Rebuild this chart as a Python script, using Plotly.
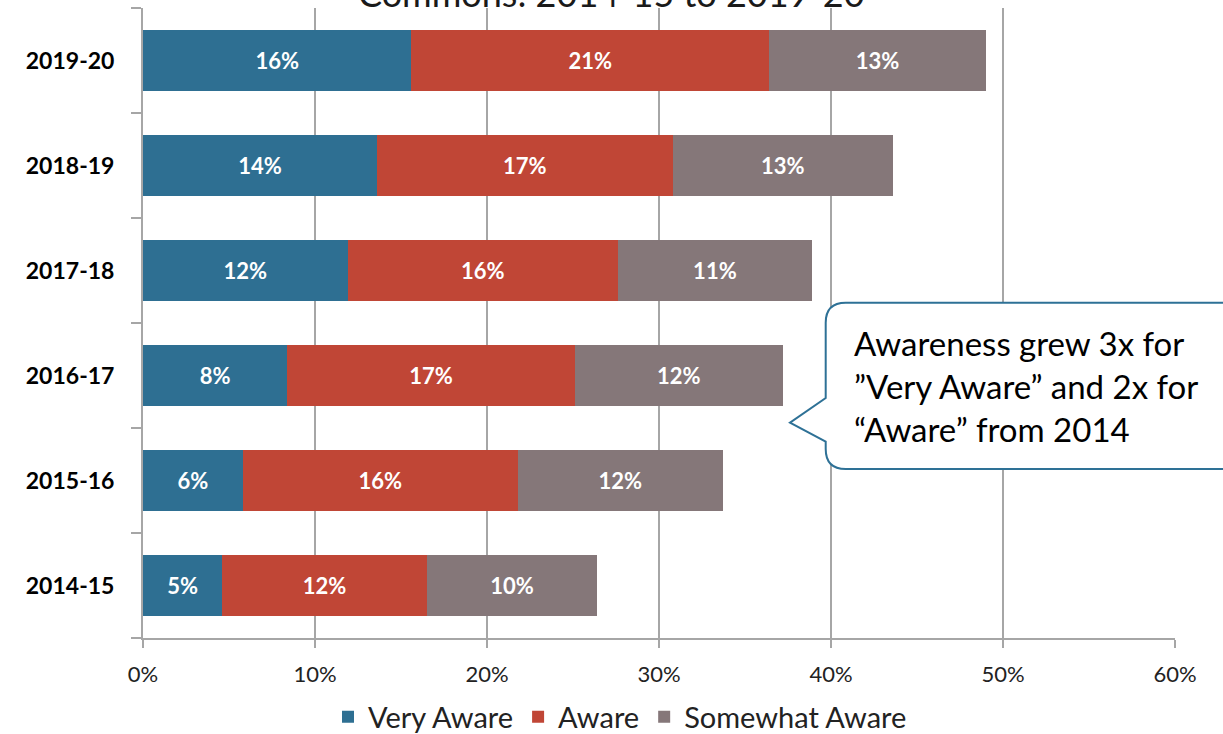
import plotly.graph_objects as go

# Survey years, bottom to top
years = ["2014-15", "2015-16", "2016-17", "2017-18", "2018-19", "2019-20"]

# Share of respondents (%) per awareness level
very_aware = [4.6, 5.8, 8.4, 11.9, 13.6, 15.6]
aware = [11.9, 16.0, 16.7, 15.7, 17.2, 20.8]
somewhat_aware = [9.9, 11.9, 12.1, 11.3, 12.8, 12.6]

x_ticks = [0, 10, 20, 30, 40, 50, 60]
x_tick_labels = ["0%", "10%", "20%", "30%", "40%", "50%", "60%"]

series = [
    ("Very Aware", very_aware, "#2e6f92"),
    ("Aware", aware, "#c04636"),
    ("Somewhat Aware", somewhat_aware, "#857779"),
]

FONT = "Lato, 'Open Sans', Arial, sans-serif"
W, H = 1223, 734
ML, MR, MT, MB = 143, 48, 8, 96

fig = go.Figure()
for name, vals, color in series:
    fig.add_trace(go.Bar(
        y=years, x=vals, name=name, orientation="h",
        marker=dict(color=color, line=dict(width=0)),
        texttemplate="%{x:.0f}%", textposition="inside",
        insidetextanchor="middle",
        textfont=dict(color="white", size=22, family=FONT, weight="bold"),
        hoverinfo="skip",
    ))

# Callout box with a pointer on its left side (pixel geometry -> paper units)
pw, ph = W - ML - MR, H - MT - MB
def px(x):
    return (x - ML) / pw
def py(y):
    return (H - MB - y) / ph

left, right, top, bottom, r = 825.7, 1250, 302.7, 469, 20
tip_x, tip_y, base_top, base_bot = 790, 422.7, 398, 441.7
path = (
    f"M {px(left + r)},{py(top)} L {px(right)},{py(top)} "
    f"L {px(right)},{py(bottom)} L {px(left + r)},{py(bottom)} "
    f"Q {px(left)},{py(bottom)} {px(left)},{py(bottom - r)} "
    f"L {px(left)},{py(base_bot)} L {px(tip_x)},{py(tip_y)} "
    f"L {px(left)},{py(base_top)} L {px(left)},{py(top + r)} "
    f"Q {px(left)},{py(top)} {px(left + r)},{py(top)} Z"
)
fig.add_shape(type="path", path=path, xref="paper", yref="paper",
              line=dict(color="#2e7196", width=2), fillcolor="white",
              layer="above")

fig.add_annotation(
    x=px(852), y=py(386), xref="paper", yref="paper",
    xanchor="left", yanchor="middle", align="left", showarrow=False,
    text="Awareness grew 3x for<br>”Very Aware” and 2x for<br>“Aware” from 2014",
    font=dict(size=33, color="black", family=FONT),
)

# Chart title (second line sits at the very top edge of the page)
fig.add_annotation(
    x=px(611), y=py(17), xref="paper", yref="paper", xanchor="center",
    yanchor="bottom", showarrow=False,
    text="Commons: 2014-15 to 2019-20",
    font=dict(size=36, color="#1a1a1a", family=FONT),
)

fig.update_layout(
    width=W, height=H, barmode="stack", bargap=0.425,
    margin=dict(l=ML, r=MR, t=MT, b=MB, autoexpand=False),
    plot_bgcolor="white", paper_bgcolor="white",
    font=dict(family=FONT, color="#222"),
    showlegend=True,
    legend=dict(orientation="h", x=px(620), xanchor="center",
                yref="container", y=(H - 717) / H, yanchor="middle",
                font=dict(size=29, color="#222"),
                traceorder="normal", itemwidth=30),
    xaxis=dict(range=[0, 60], tickvals=x_ticks, ticktext=x_tick_labels,
               showgrid=True, gridcolor="#a6a6a6", gridwidth=2,
               showline=True, linecolor="#a6a6a6", linewidth=2,
               ticks="outside", ticklen=8, tickcolor="#a6a6a6", tickwidth=2,
               tickfont=dict(size=22, color="#222"), ticklabelstandoff=8,
               zeroline=False, fixedrange=True, automargin=False),
    yaxis=dict(type="category", categoryorder="array", categoryarray=years,
               showline=True, linecolor="#a6a6a6", linewidth=2,
               ticks="outside", ticklen=10, tickcolor="#a6a6a6", tickwidth=2,
               tickson="boundaries", showgrid=False,
               tickfont=dict(size=23, color="black", weight="bold"),
               ticklabelstandoff=22, fixedrange=True, automargin=False),
)

fig.write_html("out.html")
